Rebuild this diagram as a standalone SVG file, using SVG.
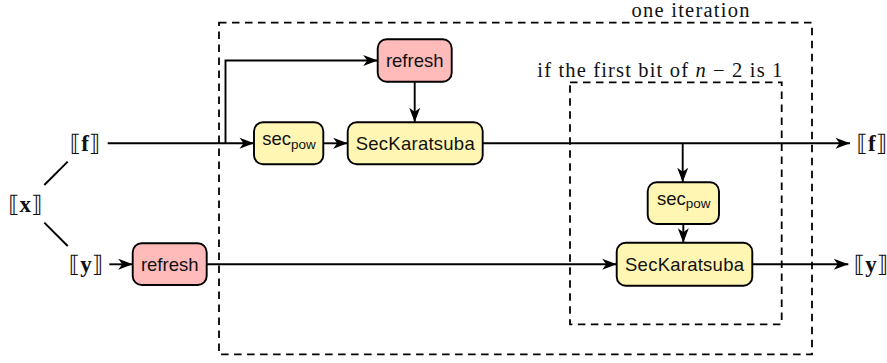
<svg xmlns="http://www.w3.org/2000/svg" width="887" height="363" viewBox="0 0 887 363">
<style>
.bg{fill:#ffffff}
.frame{fill:none;stroke:#000;stroke-width:1.8;stroke-dasharray:7.5 5.5}
.box{stroke:#000;stroke-width:1.9}
.y{fill:#fff6b3}
.r{fill:#ffbaba}
.edge{fill:none;stroke:#000;stroke-width:1.9}
.arr{marker-end:url(#stealth)}
.sans{font-family:"Liberation Sans","DejaVu Sans",Arial,sans-serif;font-size:18.5px;fill:#111}
.sub{font-size:13.5px}
.serif{font-family:"Liberation Serif","DejaVu Serif","DejaVu Sans",serif;font-size:20.5px;fill:#111}
.math{font-family:"Liberation Serif","DejaVu Serif","DejaVu Sans",serif;font-size:23px;fill:#111}
</style>
<defs>
<marker id="stealth" markerUnits="userSpaceOnUse" markerWidth="16" markerHeight="12" refX="14.5" refY="5.5" orient="auto" overflow="visible">
<path d="M0,0 L14.5,5.5 L0,11 L4,5.5 Z" fill="#000"/>
</marker>
</defs>
<rect class="bg" x="0" y="0" width="887" height="363"/>

<g id="frames">
<rect class="frame" x="219" y="22.7" width="593" height="331.6"/>
<rect class="frame" x="570" y="82.3" width="211.7" height="242"/>
<text class="serif" x="690.5" y="16.7" text-anchor="middle" textLength="118" lengthAdjust="spacing">one iteration</text>
<text class="serif" x="537.3" y="76.5" textLength="245" lengthAdjust="spacing">if the first bit of <tspan font-style="italic">n</tspan> − 2 is 1</text>
</g>

<g id="connectors">
<line class="edge" x1="44.3" y1="185" x2="67.7" y2="161.7"/>
<line class="edge" x1="44.3" y1="222.7" x2="67.7" y2="246"/>
<line class="edge arr" x1="107.7" y1="143.3" x2="254" y2="143.3"/>
<polyline class="edge arr" points="225.5,143.3 225.5,60.5 377.7,60.5"/>
<line class="edge arr" x1="323.3" y1="143.3" x2="347.7" y2="143.3"/>
<line class="edge arr" x1="414.7" y1="81.7" x2="414.7" y2="122.3"/>
<line class="edge arr" x1="482.7" y1="143.3" x2="850" y2="143.3"/>
<line class="edge arr" x1="682.7" y1="143.3" x2="682.7" y2="182.3"/>
<line class="edge arr" x1="683.3" y1="224" x2="683.3" y2="242.7"/>
<line class="edge arr" x1="109.3" y1="264.3" x2="132.7" y2="264.3"/>
<line class="edge arr" x1="206.7" y1="264.3" x2="616.7" y2="264.3"/>
<line class="edge arr" x1="752.3" y1="264.3" x2="848.3" y2="264.3"/>
</g>

<g id="x-in"><text class="math" x="25.3" y="212" text-anchor="middle">⟦<tspan font-weight="bold">x</tspan>⟧</text></g>
<g id="f-in"><text class="math" x="85" y="151" text-anchor="middle">⟦<tspan font-weight="bold">f</tspan>⟧</text></g>
<g id="y-in"><text class="math" x="86" y="271.5" text-anchor="middle">⟦<tspan font-weight="bold">y</tspan>⟧</text></g>
<g id="f-out"><text class="math" x="871.8" y="151" text-anchor="middle">⟦<tspan font-weight="bold">f</tspan>⟧</text></g>
<g id="y-out"><text class="math" x="871" y="271.5" text-anchor="middle">⟦<tspan font-weight="bold">y</tspan>⟧</text></g>

<g id="refresh-top">
<rect class="box r" x="377.7" y="39.3" width="74" height="42.4" rx="9"/>
<text class="sans" x="414.7" y="67" text-anchor="middle">refresh</text>
</g>
<g id="secpow-1">
<rect class="box y" x="254" y="122.3" width="69.3" height="42" rx="9"/>
<text class="sans" x="262.3" y="145">sec<tspan class="sub" dy="3.5">pow</tspan></text>
</g>
<g id="seckaratsuba-1">
<rect class="box y" x="347.7" y="122.3" width="135" height="42" rx="9"/>
<text class="sans" x="415.2" y="150" text-anchor="middle" textLength="119" lengthAdjust="spacing">SecKaratsuba</text>
</g>
<g id="secpow-2">
<rect class="box y" x="647.7" y="182.3" width="71.3" height="41.7" rx="9"/>
<text class="sans" x="657" y="204.7">sec<tspan class="sub" dy="3.5">pow</tspan></text>
</g>
<g id="seckaratsuba-2">
<rect class="box y" x="616.7" y="242.7" width="135.6" height="43" rx="9"/>
<text class="sans" x="684.5" y="271" text-anchor="middle" textLength="119" lengthAdjust="spacing">SecKaratsuba</text>
</g>
<g id="refresh-bottom">
<rect class="box r" x="132.7" y="243.3" width="74" height="41.7" rx="9"/>
<text class="sans" x="169.7" y="270.8" text-anchor="middle">refresh</text>
</g>
</svg>
